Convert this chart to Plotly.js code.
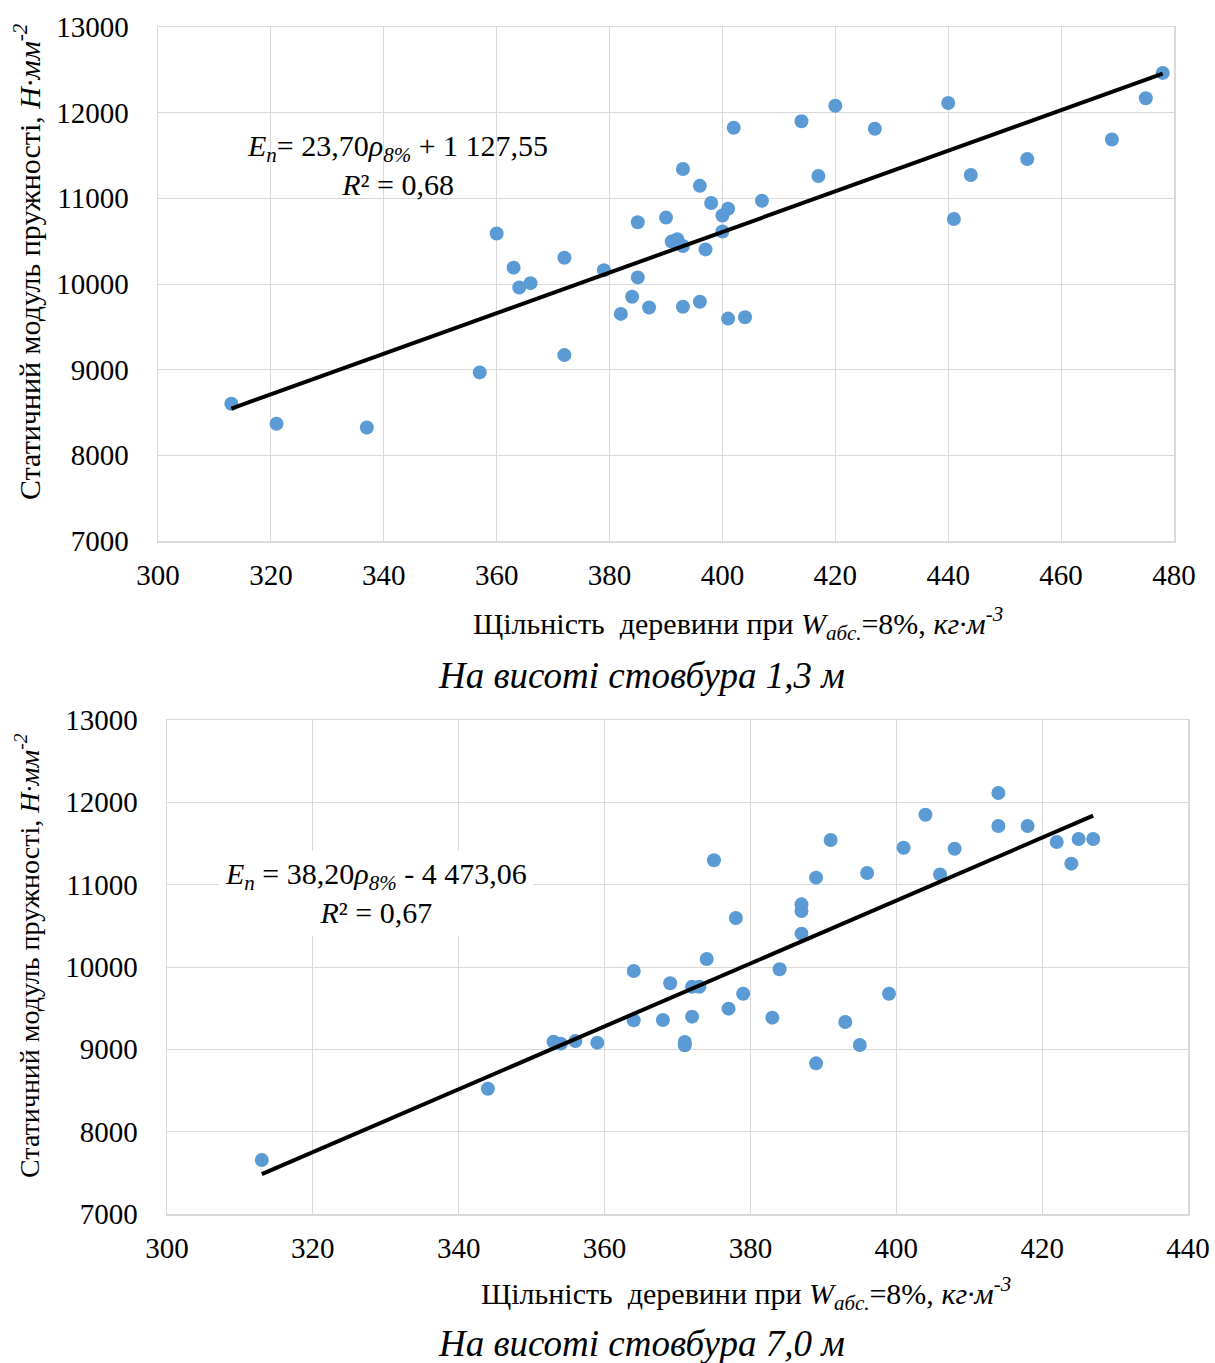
<!DOCTYPE html>
<html>
<head>
<meta charset="utf-8">
<script src="https://cdn.plot.ly/plotly-3.0.1.min.js"></script>
<style>
html,body{margin:0;padding:0;background:#fff;}
#chart{width:1215px;height:1363px;}
</style>
</head>
<body>
<div id="chart"></div>
<script>
// ---- data: top chart (height 1.3 m) ----
const topDensity = [313,321,337,357,360,363,364,366,372,372,379,382,384,385,385,387,390,391,392,393,393,393,396,396,397,398,400,400,401,401,402,404,407,414,417,420,427,440,441,444,454,469,475,478];
const topModulus = [8602,8369,8325,8968,10590,10191,9959,10010,10306,9170,10160,9651,9852,10720,10077,9726,10775,10495,10523,11343,10444,9734,11146,9793,10404,10945,10799,10613,10878,9596,11824,9611,10972,11900,11260,12081,11813,12112,10759,11272,11458,11686,12168,12464];
const topTrend = [23.70, 1127.55]; // slope, intercept

// ---- data: bottom chart (height 7.0 m) ----
const botDensity = [313,344,353,354,356,359,364,364,368,369,372,371,371,372,373,374,375,377,378,379,383,384,387,387,387,389,389,391,393,395,396,399,401,404,406,408,414,414,418,422,424,425,427];
const botModulus = [7656,8522,9093,9069,9101,9081,9951,9352,9356,9802,9397,9089,9049,9761,9761,10097,11296,9494,10595,9676,9385,9972,10761,10680,10405,8830,11085,11543,9332,9053,11142,9676,11449,11850,11125,11437,12114,11713,11713,11518,11255,11555,11555];
const botTrend = [38.20, -4473.06];

const topXTicks = [300,320,340,360,380,400,420,440,460,480];
const botXTicks = [300,320,340,360,380,400,420,440];
const yTicks = [7000,8000,9000,10000,11000,12000,13000];

const topEq = "<i>E<sub>n</sub></i>= 23,70<i>ρ<sub>8%</sub></i> + 1 127,55<br><i>R</i>² = 0,68";
const botEq = "<i>E<sub>n</sub></i> = 38,20<i>ρ<sub>8%</sub></i> - 4 473,06<br><i>R</i>² = 0,67";
const xTitle = "Щільність  деревини при <i>W<sub>абс.</sub></i>=8%, <i>кг·м<sup>-3</sup></i>";
const yTitle = "Статичний модуль пружності, <i>Н·мм<sup>-2</sup></i>";
const topCaption = "<i>На висоті стовбура 1,3 м</i>";
const botCaption = "<i>На висоті стовбура 7,0 м</i>";

// ---- layout helpers ----
const W = 1215, H = 1363;
const px = x => x / W;
const py = y => 1 - y / H;
const FONT = "Liberation Serif, Times New Roman, serif";

function trendLine(xs, coef) {
  const x0 = Math.min(...xs), x1 = Math.max(...xs);
  return {x: [x0, x1], y: [coef[0] * x0 + coef[1], coef[0] * x1 + coef[1]]};
}
const tl1 = trendLine(topDensity, topTrend);
const tl2 = trendLine(botDensity, botTrend);

const markerStyle = {color: '#5b9bd5', size: 14};
const data = [
  {x: topDensity, y: topModulus, type: 'scatter', mode: 'markers', marker: markerStyle, xaxis: 'x', yaxis: 'y', showlegend: false},
  {x: tl1.x, y: tl1.y, type: 'scatter', mode: 'lines', line: {color: '#000', width: 4}, xaxis: 'x', yaxis: 'y', showlegend: false},
  {x: botDensity, y: botModulus, type: 'scatter', mode: 'markers', marker: markerStyle, xaxis: 'x2', yaxis: 'y2', showlegend: false},
  {x: tl2.x, y: tl2.y, type: 'scatter', mode: 'lines', line: {color: '#000', width: 4}, xaxis: 'x2', yaxis: 'y2', showlegend: false}
];

const gridColor = '#d9d9d9';
const tickFont = {family: FONT, size: 29, color: '#000'};
function xAxis(dom, ticks, anchor) {
  return {domain: dom, range: [ticks[0], ticks[ticks.length - 1]], tickvals: ticks, ticktext: ticks.map(String),
    showgrid: true, gridcolor: gridColor, gridwidth: 1, zeroline: false,
    showline: true, linecolor: gridColor, linewidth: 1.5, mirror: true,
    ticks: 'outside', ticklen: 8, tickcolor: 'rgba(0,0,0,0)', tickfont: tickFont, anchor: anchor, fixedrange: true};
}
function yAxis(dom, anchor) {
  return {domain: dom, range: [7000, 13000], tickvals: yTicks, ticktext: yTicks.map(String),
    showgrid: true, gridcolor: gridColor, gridwidth: 1, zeroline: false,
    showline: true, linecolor: gridColor, linewidth: 1.5, mirror: true,
    ticks: 'outside', ticklen: 22, tickcolor: 'rgba(0,0,0,0)', tickfont: tickFont, anchor: anchor, fixedrange: true};
}

const ann = (text, x, y, size, extra) => Object.assign({
  text: text, xref: 'paper', yref: 'paper', x: px(x), y: py(y), xanchor: 'center', yanchor: 'middle',
  showarrow: false, font: {family: FONT, size: size, color: '#000'}
}, extra || {});

const layout = {
  width: W, height: H,
  margin: {l: 0, r: 0, t: 0, b: 0},
  paper_bgcolor: '#fff', plot_bgcolor: '#fff',
  showlegend: false,
  xaxis: xAxis([px(158), px(1174)], topXTicks, 'y'),
  yaxis: yAxis([py(541), py(27)], 'x'),
  xaxis2: xAxis([px(167), px(1188)], botXTicks, 'y2'),
  yaxis2: yAxis([py(1214), py(720)], 'x2'),
  annotations: [
    ann(topEq, 397, 165, 30),
    ann(botEq, 376, 893, 30, {bgcolor: '#fff', borderpad: 6}),
    ann(xTitle, 738, 623, 30),
    ann(xTitle, 746, 1293, 30),
    ann(yTitle, 27, 262, 30, {textangle: -90}),
    ann(yTitle, 27, 956, 28, {textangle: -90}),
    ann(topCaption, 642, 675, 37),
    ann(botCaption, 642, 1343, 37)
  ]
};

Plotly.newPlot('chart', data, layout, {displayModeBar: false, staticPlot: true});
</script>
</body>
</html>
